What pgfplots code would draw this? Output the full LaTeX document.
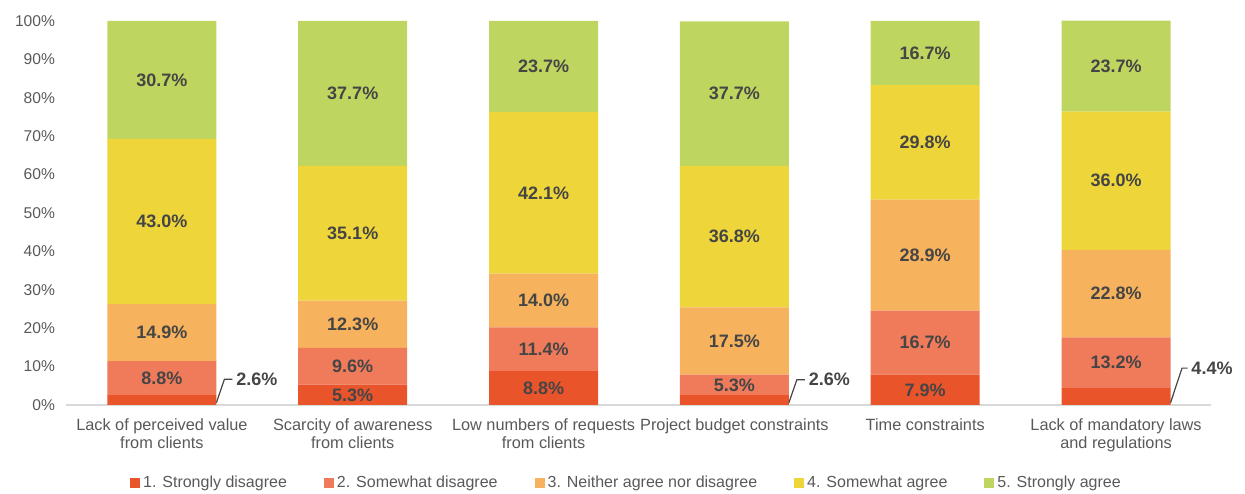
\documentclass[border=0pt]{standalone}
\usepackage{pgfplots}
\pgfplotsset{compat=1.18}
\usepackage{pgfplotstable}
\usepackage{fontspec}
\setmainfont{Liberation Sans}
\definecolor{c1}{HTML}{E9542A}
\definecolor{c2}{HTML}{EF7B5B}
\definecolor{c3}{HTML}{F6B25C}
\definecolor{c4}{HTML}{EED63A}
\definecolor{c5}{HTML}{BED65F}
\definecolor{labgray}{HTML}{454545}
\definecolor{tickgray}{HTML}{595959}
\definecolor{axgray}{HTML}{D9D9D9}
\pgfplotstableread{
x s1 s2 s3 s4 s5
0 2.6 8.8 14.9 43.0 30.7
1 5.3 9.6 12.3 35.1 37.7
2 8.8 11.4 14.0 42.1 23.7
3 2.6 5.3 17.5 36.8 37.7
4 7.9 16.7 28.9 29.8 16.7
5 4.4 13.2 22.8 36.0 23.7
}\datatable
\tikzset{lab/.style={font=\bfseries\fontsize{18}{20}\selectfont, text=labgray}}
\newcommand\seg[2]{%
  \pgfplotstablegetelem{#1}{s#2}\of\datatable
  \let\segv\pgfplotsretval
  \pgfmathsetmacro\midv{\cum+\segv/2}%
  \pgfmathsetmacro\cum{\cum+\segv}%
  \ifdim\segv pt>5pt
    \edef\temp{\noexpand\node[lab] at (axis cs:#1,\midv) {\segv\noexpand\%};}\temp
  \fi
}
\newcommand\barlabels[1]{\def\cum{0}\seg{#1}{1}\seg{#1}{2}\seg{#1}{3}\seg{#1}{4}\seg{#1}{5}}
\begin{document}
\begin{tikzpicture}
\begin{axis}[
  at={(0,0)}, anchor=south west,
  scale only axis, width=1145pt, height=384pt,
  ybar stacked, bar width=109pt, clip=false,
  xmin=-0.5, xmax=5.5, ymin=0, ymax=100,
  xtick={0,...,5},
  xticklabels={Lack of perceived value\\from clients, Scarcity of awareness\\from clients, Low numbers of requests\\from clients, Project budget constraints, Time constraints, Lack of mandatory laws\\and regulations},
  ytick={0,10,...,100},
  yticklabels={0\%,10\%,20\%,30\%,40\%,50\%,60\%,70\%,80\%,90\%,100\%},
  axis lines*=left,
  y axis line style={draw=none},
  x axis line style={draw=axgray, line width=1.3pt},
  major tick length=0pt,
  xticklabel style={align=center, font=\fontsize{16.3}{18}\selectfont, text=tickgray, yshift=-10pt},
  yticklabel style={font=\fontsize{15.6}{18}\selectfont, text=tickgray, xshift=-8pt},
  legend style={at={(0.4895,-0.203)}, anchor=center, draw=none, fill=none,
    legend columns=5, font=\fontsize{16}{18}\selectfont, text=tickgray,
    nodes={inner xsep=3pt},
    /tikz/every even column/.append style={column sep=34pt}},
  legend image code/.code={\fill[#1,draw=none] (0pt,-5pt) rectangle (10pt,5pt);},
]
\addplot[fill=c1, draw=none] table[x=x,y=s1]{\datatable};
\addplot[fill=c2, draw=none] table[x=x,y=s2]{\datatable};
\addplot[fill=c3, draw=none] table[x=x,y=s3]{\datatable};
\addplot[fill=c4, draw=none] table[x=x,y=s4]{\datatable};
\addplot[fill=c5, draw=none] table[x=x,y=s5]{\datatable};
\legend{1. Strongly disagree, 2. Somewhat disagree, 3. Neither agree nor disagree, 4. Somewhat agree, 5. Strongly agree}
\end{axis}
\begin{axis}[
  at={(0,0)}, anchor=south west,
  scale only axis, width=1145pt, height=384pt,
  xmin=-0.5, xmax=5.5, ymin=0, ymax=100,
  hide axis, clip=false,
]
\barlabels{0}\barlabels{1}\barlabels{2}\barlabels{3}\barlabels{4}\barlabels{5}
\draw[labgray, line width=1.2pt] ([xshift=54.5pt]axis cs:0,0.6) -- ([xshift=62.5pt]axis cs:0,6.7) -- ([xshift=70.5pt]axis cs:0,6.7) node[right, lab] {2.6\%};
\draw[labgray, line width=1.2pt] ([xshift=54.5pt]axis cs:3,0.6) -- ([xshift=62.5pt]axis cs:3,6.6) -- ([xshift=70.5pt]axis cs:3,6.6) node[right, lab] {2.6\%};
\draw[labgray, line width=1.2pt] ([xshift=54.5pt]axis cs:5,0.6) -- ([xshift=66pt]axis cs:5,9.6) -- ([xshift=71.5pt]axis cs:5,9.6) node[right, lab] {4.4\%};
\end{axis}
\pgfresetboundingbox
\path (-66.5pt,-89pt) rectangle (1178.5pt,405pt);
\end{tikzpicture}
\end{document}
